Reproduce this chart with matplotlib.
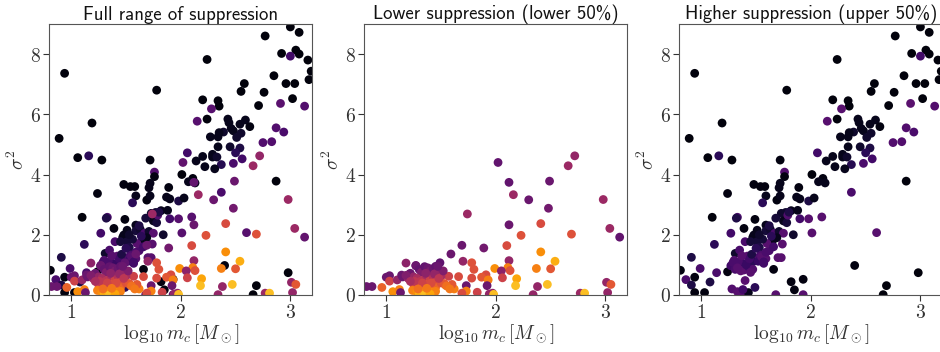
import os
import numpy as np
import matplotlib
matplotlib.use('Agg')
import matplotlib.pyplot as plt
from matplotlib.font_manager import FontProperties

plt.rcParams['mathtext.fontset'] = 'cm'
# computer modern sans shipped with matplotlib, for the titles
title_font = FontProperties(fname=os.path.join(matplotlib.get_data_path(), 'fonts', 'ttf', 'cmss10.ttf'), size=13.5)

# upper 50% suppression (dark points): x = log10 m_c, y = sigma^2, c = colour value (inferno 0..1)
up_x = [2.77, 3.00, 3.08, 2.92, 3.05, 3.08, 3.00, 3.16, 3.19, 3.17, 2.24, 0.94, 1.78, 2.85,
        2.96, 3.04, 2.58, 2.55, 2.76, 3.02, 2.91, 3.13, 2.71, 2.20, 2.34, 2.35, 2.28, 2.15,
        2.24, 2.43, 2.44, 2.59, 2.63, 2.54, 2.46, 2.48, 2.39, 2.35, 2.34, 2.27, 2.55, 2.51,
        2.75, 2.83, 2.87, 2.94, 2.45, 2.34, 2.54, 2.50, 2.06, 2.20, 2.29, 2.29, 2.33, 2.56,
        2.14, 2.48, 2.37, 2.22, 2.31, 2.87, 2.37, 2.01, 2.11, 2.07, 2.13, 1.76, 1.72, 1.76,
        1.72, 1.71, 1.69, 1.72, 1.89, 1.87, 1.90, 1.98, 2.03, 1.48, 1.54, 1.58, 1.59, 1.56,
        1.24, 1.73, 1.77, 1.75, 1.78, 1.79, 1.82, 1.88, 1.90, 1.98, 2.01, 2.10, 2.60, 2.40,
        2.98, 2.69, 2.66, 1.16, 1.06, 1.28, 1.19, 0.89, 1.10, 1.33, 1.32, 1.49, 1.39, 1.27,
        1.48, 1.51, 1.59, 1.59, 1.63, 1.67, 1.71, 1.75, 1.69, 1.65, 1.74, 1.73, 1.66, 1.82,
        1.93, 1.85, 1.93, 1.68, 1.12, 1.24, 1.14, 1.08, 0.99, 0.91, 0.86, 0.94, 0.91, 0.81,
        0.94, 1.03, 1.28, 1.33, 1.38, 1.43, 1.49, 1.40, 1.32, 1.31, 1.35, 1.40, 1.47, 1.45,
        1.51, 1.53, 1.42, 1.50, 1.54, 1.59, 1.62, 1.70, 1.27, 1.31, 1.35, 1.38, 1.39, 1.43,
        1.47, 1.47, 1.52, 1.57, 1.55, 1.59, 1.60, 1.30, 1.34, 1.36, 1.41, 1.44, 1.37, 1.29,
        1.33, 1.46, 1.50, 1.56, 1.53, 1.62, 1.66, 1.45, 1.38, 1.68, 1.80, 1.84, 1.64, 1.57]
up_y = [8.60, 8.90, 8.72, 8.02, 8.13, 8.00, 7.93, 7.80, 7.43, 7.15, 7.82, 7.36, 6.80, 7.28,
        7.02, 7.02, 7.02, 6.76, 6.73, 6.52, 6.36, 6.27, 6.29, 6.48, 6.45, 6.27, 6.18, 5.77,
        5.84, 5.84, 5.72, 5.81, 5.59, 5.67, 5.53, 5.45, 5.41, 5.39, 5.25, 5.25, 5.37, 5.23,
        5.06, 5.09, 5.55, 5.41, 4.92, 4.92, 4.88, 4.72, 4.72, 4.60, 4.67, 4.58, 4.58, 4.52,
        4.45, 4.37, 4.33, 4.26, 4.19, 3.78, 3.41, 4.00, 3.87, 3.76, 3.72, 4.08, 4.48, 3.93,
        3.71, 3.56, 3.15, 3.29, 3.57, 3.25, 3.19, 3.12, 3.22, 3.67, 3.60, 3.60, 3.29, 3.06,
        3.37, 2.71, 2.74, 2.46, 2.40, 2.65, 2.80, 2.81, 2.53, 2.53, 2.06, 2.59, 2.07, 0.98,
        0.74, 0.31, 0.01, 4.62, 4.56, 4.48, 5.71, 5.20, 2.58, 2.58, 2.55, 2.51, 2.21, 2.05,
        1.99, 2.15, 2.32, 2.13, 2.18, 2.05, 2.11, 2.05, 1.90, 1.80, 1.69, 1.24, 0.85, 0.44,
        0.52, 0.17, 0.01, 0.01, 1.68, 0.77, 0.74, 0.43, 0.88, 1.25, 0.51, 0.59, 0.33, 0.82,
        0.08, 0.08, 0.20, 0.11, 0.07, 0.08, 0.25, 0.48, 1.03, 1.38, 1.49, 1.77, 1.91, 1.77,
        1.77, 1.58, 1.29, 1.22, 1.33, 1.21, 1.47, 1.24, 0.97, 0.85, 0.94, 1.05, 0.83, 0.94,
        1.10, 0.85, 1.12, 1.05, 1.27, 1.42, 1.71, 1.15, 1.10, 0.80, 1.00, 1.20, 1.30, 1.08,
        0.90, 1.35, 1.55, 1.85, 2.00, 2.30, 1.60, 0.75, 0.18, 2.55, 2.75, 2.00, 1.95, 1.10]
up_c = [0.02, 0.02, 0.02, 0.02, 0.02, 0.02, 0.20, 0.02, 0.02, 0.02, 0.02, 0.02, 0.02, 0.02,
        0.02, 0.02, 0.02, 0.02, 0.02, 0.02, 0.26, 0.24, 0.02, 0.02, 0.02, 0.02, 0.25, 0.25,
        0.02, 0.05, 0.05, 0.05, 0.03, 0.05, 0.05, 0.05, 0.08, 0.05, 0.05, 0.05, 0.08, 0.08,
        0.24, 0.24, 0.24, 0.22, 0.08, 0.05, 0.12, 0.15, 0.20, 0.05, 0.05, 0.05, 0.08, 0.20,
        0.05, 0.22, 0.14, 0.05, 0.05, 0.02, 0.22, 0.02, 0.03, 0.05, 0.05, 0.24, 0.03, 0.03,
        0.05, 0.05, 0.03, 0.05, 0.03, 0.05, 0.05, 0.12, 0.05, 0.03, 0.03, 0.03, 0.05, 0.15,
        0.03, 0.08, 0.08, 0.05, 0.10, 0.24, 0.05, 0.05, 0.20, 0.25, 0.25, 0.25, 0.25, 0.03,
        0.02, 0.02, 0.02, 0.15, 0.02, 0.02, 0.02, 0.02, 0.02, 0.22, 0.12, 0.03, 0.03, 0.20,
        0.05, 0.05, 0.05, 0.10, 0.08, 0.22, 0.08, 0.25, 0.05, 0.05, 0.25, 0.25, 0.03, 0.03,
        0.03, 0.03, 0.25, 0.25, 0.15, 0.03, 0.22, 0.12, 0.22, 0.12, 0.22, 0.03, 0.12, 0.03,
        0.03, 0.03, 0.24, 0.25, 0.25, 0.05, 0.15, 0.25, 0.12, 0.08, 0.22, 0.22, 0.05, 0.10,
        0.10, 0.12, 0.25, 0.24, 0.22, 0.25, 0.22, 0.25, 0.20, 0.22, 0.24, 0.18, 0.25, 0.20,
        0.15, 0.24, 0.18, 0.20, 0.25, 0.22, 0.25, 0.24, 0.22, 0.26, 0.18, 0.20, 0.25, 0.22,
        0.25, 0.12, 0.15, 0.10, 0.08, 0.12, 0.20, 0.25, 0.20, 0.10, 0.12, 0.08, 0.15, 0.20]

# lower 50% suppression (brighter points)
lo_x = [2.02, 2.72, 2.66, 2.12, 2.49, 2.16, 2.30, 2.98, 1.74, 2.48, 2.12, 2.41, 3.04, 3.13,
        2.23, 2.69, 2.10, 1.89, 1.69, 1.59, 2.41, 2.54, 2.12, 1.78, 1.70, 1.99, 2.11, 2.13,
        2.05, 2.37, 2.50, 1.80, 1.91, 1.87, 1.93, 1.78, 1.57, 1.66, 2.19, 2.18, 2.47, 2.06,
        1.92, 1.73, 2.38, 3.01, 3.05, 3.02, 2.34, 2.77, 2.81, 1.97, 1.94, 1.83, 1.73, 1.69,
        1.62, 1.60, 1.54, 1.98, 0.82, 0.87, 0.96, 1.00, 1.03, 1.03, 1.06, 1.12, 1.13, 1.10,
        1.15, 1.18, 1.14, 1.21, 1.27,
        1.22, 1.25, 1.27, 1.30, 1.32, 1.35, 1.38, 1.40, 1.43, 1.45, 1.49, 1.47, 1.50, 1.28,
        1.31, 1.34, 1.37, 1.40, 1.43, 1.46, 1.25, 1.29, 1.33, 1.36, 1.39, 1.42, 1.45, 1.50,
        1.53, 1.24, 1.28, 1.32, 1.35, 1.38, 1.41, 1.45, 1.30, 1.35, 1.40, 1.26, 1.20, 1.18,
        1.44, 1.48, 1.36, 1.55, 1.58, 1.22, 1.33, 1.41, 1.29, 1.37, 1.52, 1.47]
lo_y = [4.40, 4.62, 4.29, 3.74, 3.78, 3.33, 3.16, 3.17, 2.69, 2.88, 2.33, 2.37, 2.21, 1.92,
        1.98, 2.02, 1.64, 1.56, 1.65, 1.36, 1.43, 1.12, 1.14, 1.07, 1.12, 0.88, 0.91, 0.81,
        0.80, 0.88, 0.87, 0.85, 0.67, 0.59, 0.50, 0.56, 0.62, 0.61, 0.54, 0.31, 0.35, 0.57,
        0.31, 0.31, 0.28, 0.42, 0.35, 0.08, 0.01, 0.06, 0.06, 0.06, 0.03, 0.09, 0.13, 0.06,
        0.20, 0.35, 0.33, 0.02, 0.28, 0.28, 0.25, 0.59, 0.64, 0.46, 0.11, 0.18, 0.08, 0.50,
        0.60, 1.06, 0.66, 0.69, 0.97,
        0.72, 0.60, 0.98, 0.85, 0.75, 0.94, 0.90, 0.80, 0.88, 0.95, 1.07, 0.75, 0.62, 0.55,
        0.45, 0.50, 0.60, 0.50, 0.60, 0.45, 0.35, 0.30, 0.30, 0.35, 0.25, 0.30, 0.25, 0.40,
        0.38, 0.15, 0.10, 0.15, 0.08, 0.15, 0.10, 0.12, 0.02, 0.00, 0.03, 0.45, 0.55, 0.65,
        0.70, 0.55, 0.72, 0.30, 0.20, 0.45, 0.40, 0.40, 0.20, 0.22, 0.80, 0.95]
lo_c = [0.28, 0.40, 0.42, 0.28, 0.30, 0.42, 0.30, 0.42, 0.42, 0.32, 0.30, 0.58, 0.42, 0.28,
        0.60, 0.60, 0.58, 0.32, 0.30, 0.30, 0.75, 0.82, 0.40, 0.60, 0.40, 0.75, 0.72, 0.60,
        0.38, 0.72, 0.62, 0.60, 0.58, 0.62, 0.72, 0.58, 0.55, 0.58, 0.80, 0.85, 0.85, 0.55,
        0.30, 0.30, 0.40, 0.40, 0.62, 0.40, 0.40, 0.42, 0.85, 0.40, 0.40, 0.55, 0.72, 0.58,
        0.72, 0.62, 0.72, 0.85, 0.30, 0.30, 0.65, 0.30, 0.30, 0.55, 0.75, 0.72, 0.30, 0.40,
        0.30, 0.38, 0.30, 0.32, 0.30,
        0.30, 0.40, 0.30, 0.28, 0.35, 0.28, 0.30, 0.33, 0.30, 0.28, 0.27, 0.38, 0.45, 0.45,
        0.50, 0.50, 0.45, 0.55, 0.48, 0.58, 0.60, 0.62, 0.62, 0.60, 0.65, 0.62, 0.66, 0.60,
        0.62, 0.72, 0.75, 0.72, 0.78, 0.72, 0.75, 0.72, 0.82, 0.85, 0.80, 0.50, 0.42, 0.35,
        0.40, 0.50, 0.38, 0.68, 0.70, 0.45, 0.55, 0.58, 0.68, 0.70, 0.35, 0.30]

titles = ['Full range of suppression',
          'Lower suppression (lower 50%)',
          'Higher suppression (upper 50%)']

all_x = up_x + lo_x
all_y = up_y + lo_y
all_c = up_c + lo_c
panels = [(all_x, all_y, all_c), (lo_x, lo_y, lo_c), (up_x, up_y, up_c)]

fig = plt.figure(figsize=(9.4, 3.52), dpi=100)
lefts = [0.0524, 0.3876, 0.7227]

for left, (px, py, pc), title in zip(lefts, panels, titles):
    ax = fig.add_axes([left, 0.162, 0.2798, 0.770])
    ax.scatter(px, py, c=pc, cmap='inferno', vmin=0, vmax=1, s=40, linewidths=0)
    ax.set_xlim(0.8, 3.2)
    ax.set_ylim(0, 9)
    ax.set_xticks([1, 2, 3])
    ax.set_xticklabels(['$1$', '$2$', '$3$'], fontsize=14)
    ax.set_yticks([0, 2, 4, 6, 8])
    ax.set_yticklabels(['$0$', '$2$', '$4$', '$6$', '$8$'], fontsize=14)
    ax.set_xlabel(r'$\log_{10} m_c\,[M_\odot]$', fontsize=14, color='#333333', labelpad=0)
    ax.set_ylabel(r'$\sigma^2$', fontsize=14, color='#333333', labelpad=2)
    ax.set_title(title, fontproperties=title_font, pad=3, color='#111111')
    ax.tick_params(colors='#333333', length=4, pad=2)
    for sp in ax.spines.values():
        sp.set_color('#555555')

fig.savefig('out.png', dpi=100)
